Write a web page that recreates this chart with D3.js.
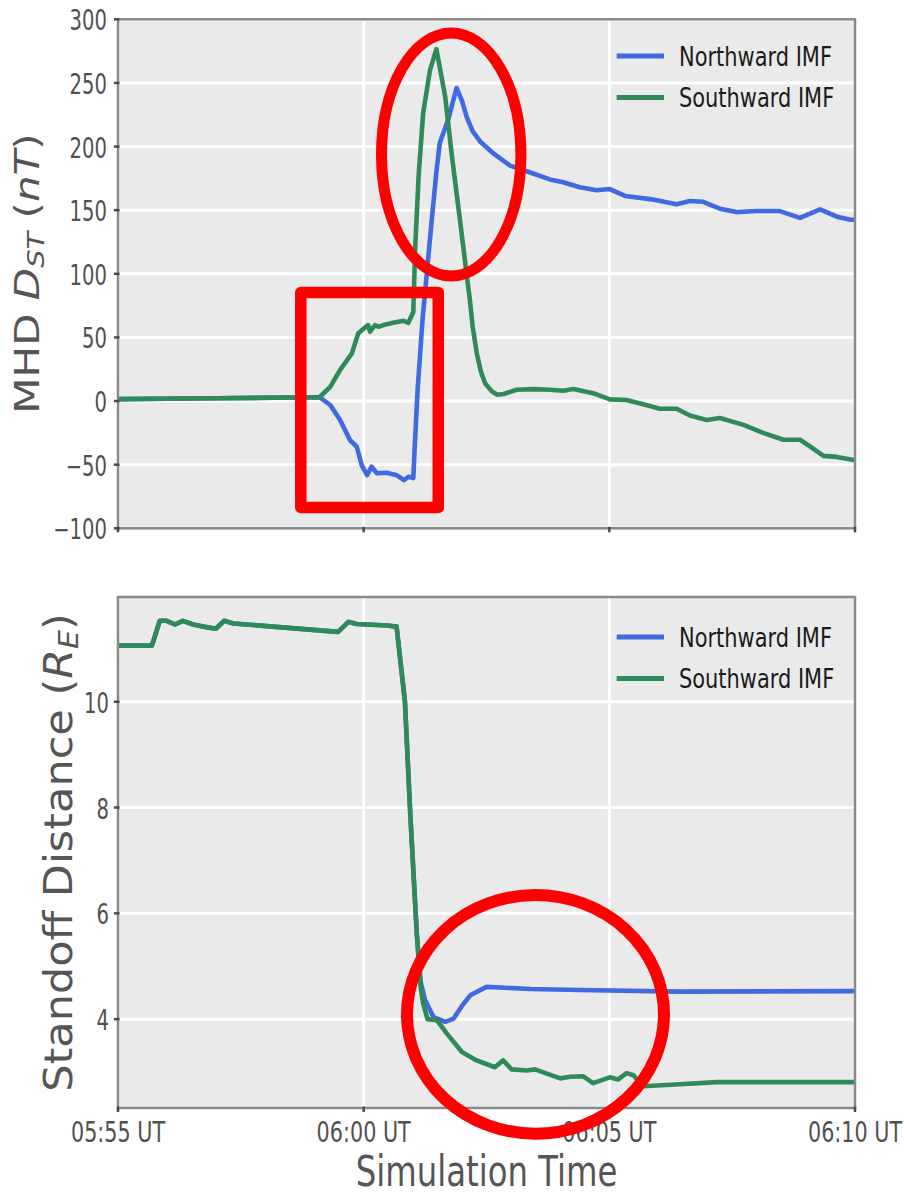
<!DOCTYPE html>
<html><head><meta charset="utf-8">
<script src="https://cdn.jsdelivr.net/npm/d3@7"></script>
<style>body{margin:0;background:#fff}svg{display:block}</style>
</head><body>
<svg id="c" width="904" height="1196"></svg>
<script>
// ---------------- data ----------------
const xTickValues = [0, 5, 10, 15];              // minutes after 05:55 UT
const xTickLabels = ["05:55 UT", "06:00 UT", "06:05 UT", "06:10 UT"];
const seriesNames = ["Northward IMF", "Southward IMF"];
const seriesColors = ["#4169E1", "#2E8B57"];
const dstTicks = [-100, -50, 0, 50, 100, 150, 200, 250, 300];
const standoffTicks = [4, 6, 8, 10];

// MHD Dst (nT) : [minutes after 05:55, value]
const dstNorth = [[0,1.5],[2,2.2],[4.1,3],[4.32,-3.1],[4.52,-14.9],[4.72,-30.6],[4.86,-35.9],[4.96,-50.3],[5.07,-58.2],[5.16,-51.6],[5.27,-56.8],[5.47,-56.3],[5.67,-58.2],[5.82,-62.1],[5.91,-59.5],[6.01,-60.5],[6.04,-35],[6.10,10],[6.2,65],[6.28,98],[6.38,140],[6.48,180],[6.55,203],[6.72,221],[6.89,246],[7.0,236],[7.10,223],[7.22,212],[7.37,204],[7.64,194.6],[7.98,185],[8.39,179.6],[8.79,174.2],[9.06,172],[9.40,168],[9.74,165.6],[10.01,166.6],[10.32,161.2],[10.83,158.7],[11.37,154.7],[11.64,157.2],[11.91,156.6],[12.25,151.2],[12.59,148.5],[13.0,149.3],[13.47,149.3],[13.88,143.9],[14.29,150.6],[14.63,144.9],[14.91,142.5],[15,142.5]];
const dstSouth = [[0,1.5],[2,2.2],[4.1,3],[4.32,11.2],[4.52,24.4],[4.76,37.5],[4.89,53.2],[5.09,59.7],[5.13,54.5],[5.23,59.7],[5.30,58.4],[5.40,59.7],[5.60,61.5],[5.81,63.1],[5.91,61.5],[6.01,70],[6.05,122],[6.12,178],[6.21,226],[6.35,260],[6.48,276.5],[6.66,239],[6.79,194.6],[6.96,142.2],[7.11,95],[7.16,80],[7.22,58],[7.30,38],[7.38,24],[7.47,14],[7.61,7.6],[7.72,5],[7.85,5.5],[8.11,8.9],[8.45,9.4],[8.79,8.9],[9.06,8.1],[9.27,9.4],[9.67,6.2],[10.01,1.3],[10.35,0.8],[10.69,-2.5],[11.03,-6],[11.37,-6],[11.64,-11.4],[11.98,-14.9],[12.25,-13.3],[12.73,-18.7],[13.13,-25],[13.54,-30.4],[13.88,-30.4],[14.09,-35.8],[14.36,-43.1],[14.63,-43.9],[15,-46.6]];

// Standoff distance (R_E)
const standoffNorth = [[0,11.06],[0.69,11.06],[0.85,11.53],[0.99,11.53],[1.16,11.46],[1.32,11.53],[1.53,11.46],[1.74,11.42],[1.99,11.38],[2.16,11.53],[2.35,11.48],[4.48,11.32],[4.69,11.51],[4.86,11.47],[5.47,11.44],[5.67,11.42],[5.84,10.0],[5.95,7.85],[6.08,5.63],[6.16,4.7],[6.25,4.36],[6.42,4.04],[6.66,3.95],[6.83,4.01],[7.0,4.25],[7.17,4.45],[7.5,4.61],[8.39,4.57],[9.40,4.55],[11.44,4.52],[15,4.53]];
const standoffSouth = [[0,11.06],[0.69,11.06],[0.85,11.53],[0.99,11.53],[1.16,11.46],[1.32,11.53],[1.53,11.46],[1.74,11.42],[1.99,11.38],[2.16,11.53],[2.35,11.48],[4.48,11.32],[4.69,11.51],[4.86,11.47],[5.47,11.44],[5.67,11.42],[5.84,10.0],[5.95,7.85],[6.08,5.63],[6.16,4.6],[6.21,4.3],[6.30,4.0],[6.49,3.98],[6.69,3.73],[7.0,3.38],[7.30,3.22],[7.67,3.09],[7.84,3.22],[8.01,3.05],[8.32,3.03],[8.49,3.05],[8.73,2.97],[9.0,2.88],[9.20,2.91],[9.47,2.92],[9.67,2.79],[10.01,2.90],[10.18,2.86],[10.35,2.98],[10.49,2.94],[10.69,2.73],[11.44,2.77],[12.19,2.81],[15,2.81]];

// ---------------- layout ----------------
const FONT = "'DejaVu Sans', sans-serif";
const svg = d3.select("#c");
const L = 118, R = 855;
const x = d3.scaleLinear().domain([0, 15]).range([L, R]);

function panel(cfg) {
  const { top, bot, y, yTicks, series, labelRight, legendY, showX } = cfg;
  const g = svg.append("g");
  g.append("rect").attr("x", L).attr("y", top).attr("width", R - L).attr("height", bot - top).attr("fill", "#EAEAEA");
  g.selectAll(".gy").data(yTicks).join("line")
    .attr("x1", L).attr("x2", R).attr("y1", d => y(d)).attr("y2", d => y(d))
    .attr("stroke", "#fff").attr("stroke-width", 3);
  g.selectAll(".gx").data(xTickValues).join("line")
    .attr("x1", d => x(d)).attr("x2", d => x(d)).attr("y1", top).attr("y2", bot)
    .attr("stroke", "#fff").attr("stroke-width", 3);
  const line = d3.line().x(d => x(d[0])).y(d => y(d[1]));
  series.forEach((s, i) => {
    g.append("path").datum(s).attr("d", line).attr("fill", "none")
      .attr("stroke", seriesColors[i]).attr("stroke-width", 4.6)
      .attr("stroke-linejoin", "round").attr("stroke-linecap", "butt");
  });
  g.append("rect").attr("x", L).attr("y", top).attr("width", R - L).attr("height", bot - top)
    .attr("fill", "none").attr("stroke", "#8a8a8a").attr("stroke-width", 2.5);
  g.selectAll(".ty").data(yTicks).join("line")
    .attr("x1", L - 4).attr("x2", L + 1.5).attr("y1", d => y(d)).attr("y2", d => y(d))
    .attr("stroke", "#4a4a4a").attr("stroke-width", 2.5);
  g.selectAll(".tyl").data(yTicks).join("text")
    .attr("transform", d => `translate(${labelRight},${y(d) + 11})scale(0.7,1)`)
    .attr("text-anchor", "end").attr("font-family", FONT).attr("font-size", 28).attr("fill", "#505050")
    .text(d => d < 0 ? "\u2212" + Math.abs(d) : d);
  g.selectAll(".tx").data(xTickValues).join("line")
    .attr("x1", d => x(d)).attr("x2", d => x(d)).attr("y1", bot - 1.5).attr("y2", bot + 4)
    .attr("stroke", "#4a4a4a").attr("stroke-width", 2.5);
  if (showX) {
    g.selectAll(".txl").data(xTickValues).join("text")
      .attr("transform", d => `translate(${x(d)},${bot + 34.3})scale(0.74,1)`)
      .attr("text-anchor", "middle").attr("font-family", FONT).attr("font-size", 28).attr("fill", "#505050")
      .text((d, i) => xTickLabels[i]);
  }
  seriesNames.forEach((n, i) => {
    const ly = legendY + i * 41.5;
    g.append("line").attr("x1", 616.7).attr("x2", 664).attr("y1", ly).attr("y2", ly)
      .attr("stroke", seriesColors[i]).attr("stroke-width", 5);
    g.append("text").attr("transform", `translate(679,${ly + 9.8})scale(0.79,1)`)
      .attr("font-family", FONT).attr("font-size", 26.5).attr("fill", "#1a1a1a").text(n);
  });
  return g;
}

const yDst = d3.scaleLinear().domain([-100, 300]).range([528.3, 19.3]);
const ySd = d3.scaleLinear().domain([2.32, 11.98]).range([1108, 597]);

panel({ top: 19.3, bot: 528.3, y: yDst, yTicks: dstTicks, series: [dstNorth, dstSouth], labelRight: 107, legendY: 56, showX: false });
panel({ top: 597, bot: 1108, y: ySd, yTicks: standoffTicks, series: [standoffNorth, standoffSouth], labelRight: 109, legendY: 637, showX: true });

const t1 = svg.append("text").attr("transform", "translate(38.5,273.5)scale(0.82,1)rotate(-90)")
  .attr("text-anchor", "middle").attr("font-family", FONT).attr("font-size", 42).attr("fill", "#555");
t1.append("tspan").text("MHD ");
t1.append("tspan").attr("font-style", "italic").text("D");
t1.append("tspan").attr("font-style", "italic").attr("font-size", 29).attr("dy", 7).text("ST");
t1.append("tspan").attr("dy", -7).text(" (");
t1.append("tspan").attr("font-style", "italic").text("nT");
t1.append("tspan").text(")");

const t2 = svg.append("text").attr("transform", "translate(71.7,852.5)scale(0.9,1)rotate(-90)")
  .attr("text-anchor", "middle").attr("font-family", FONT).attr("font-size", 43).attr("fill", "#555");
t2.append("tspan").text("Standoff Distance (");
t2.append("tspan").attr("font-style", "italic").text("R");
t2.append("tspan").attr("font-style", "italic").attr("font-size", 30).attr("dy", 7).text("E");
t2.append("tspan").attr("dy", -7).text(")");

svg.append("text").attr("transform", "translate(486.5,1185.5)scale(0.77,1)")
  .attr("text-anchor", "middle").attr("font-family", FONT).attr("font-size", 42).attr("fill", "#555")
  .text("Simulation Time");

const red = svg.append("g").attr("fill", "none").attr("stroke", "#FF0000").attr("stroke-linejoin", "round");
red.append("ellipse").attr("cx", 451.2).attr("cy", 154.5).attr("rx", 69.7).attr("ry", 121.5).attr("stroke-width", 11);
red.append("rect").attr("x", 300.8).attr("y", 292.5).attr("width", 137.5).attr("height", 215).attr("stroke-width", 11.5);
red.append("ellipse").attr("cx", 535.5).attr("cy", 1014.4).attr("rx", 128.5).attr("ry", 119.3).attr("stroke-width", 12);
</script>
</body></html>
